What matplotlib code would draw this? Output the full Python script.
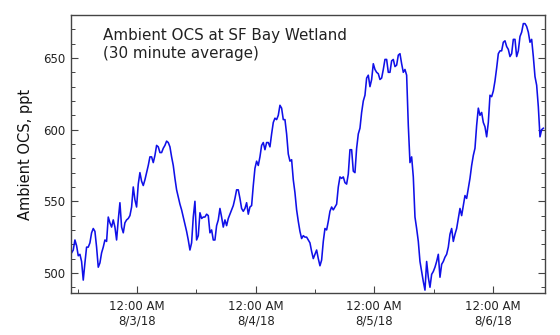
import pandas as pd
import numpy as np
import matplotlib
matplotlib.use("Agg")
import matplotlib.pyplot as plt
import matplotlib.dates as mdates
from matplotlib.ticker import MultipleLocator, FuncFormatter

# OCS mixing ratio (ppt), 30 minute running average, one value every 20.25 min
start_time = "2018-08-02 10:43"
step_seconds = 1215
ocs_ppt = [
    # 8/2 late morning -> 8/3 midnight
    514, 516, 523, 519, 512, 513, 508, 495, 507, 518, 518, 521, 528, 531,
    529, 518, 504, 507, 514, 518, 523, 522, 539, 535, 532, 537, 532, 523,
    537, 549, 532, 528, 535, 537, 538, 540, 546, 560, 551, 546, 562,
    # 8/3
    570, 564, 561, 565, 570, 575, 581, 581, 577, 582, 589, 588, 584, 584,
    587, 589, 592, 591, 588, 581, 575, 566, 558, 553, 548, 544, 539, 534,
    529, 523, 516, 521, 539, 550, 523, 526, 542, 538, 539, 539, 541,
    540, 528, 530, 523, 523, 533, 537, 545, 539, 532, 537, 533, 538, 541,
    544, 547, 552, 558, 558, 552, 545, 543, 545, 549, 541, 546, 547, 561,
    573, 578, 575, 581, 589, 591, 586, 591, 591, 588, 597, 605, 608, 607,
    # 8/4
    610, 617, 615, 607, 607, 597, 583, 578, 579, 565, 556, 544, 536, 529,
    524, 526, 525, 525, 523, 521, 515, 510, 513, 516, 510, 505, 509, 522,
    531, 530, 536, 543, 546, 544, 546, 548, 560, 567, 566, 567, 563,
    562, 569, 586, 586, 571, 570, 587, 597, 601, 612, 620, 624, 636, 638,
    630, 635, 646, 642, 640, 639, 635, 636, 642, 649, 649, 640, 640, 648,
    649, 644, 645, 652, 653, 646, 640, 642, 638, 603, 577, 581, 567, 539,
    # 8/5
    531, 522, 508, 501, 494, 488, 508, 497, 490, 499, 501, 504, 508, 513,
    497, 506, 508, 511, 513, 518, 527, 531, 522, 527, 531, 538, 545, 540,
    547, 554, 552, 559, 566, 575, 582, 587, 603, 615, 610, 612, 605,
    602, 595, 605, 624, 623, 627, 634, 643, 653, 655, 655, 661, 662, 658,
    656, 651, 653, 663, 663, 651, 655, 665, 668, 674, 674, 672, 668, 661,
    663, 651, 637, 631, 616, 595, 600, 601,
]

times = pd.date_range(start=start_time, periods=len(ocs_ppt), freq=f"{step_seconds}s")

title_lines = "Ambient OCS at SF Bay Wetland\n(30 minute average)"
y_label = "Ambient OCS, ppt"
x_range = ("2018-08-02 10:36", "2018-08-06 10:34")
y_range = (486, 680)

fig = plt.figure(figsize=(5.6, 3.35), dpi=100)
ax = fig.add_axes([0.1268, 0.1254, 0.8464, 0.8298])

ax.plot(times, ocs_ppt, color="#1010e8", lw=1.15)

ax.set_xlim(pd.Timestamp(x_range[0]), pd.Timestamp(x_range[1]))
ax.set_ylim(*y_range)

# y axis: labels every 50, small ticks every 10, ticks on both sides
ax.yaxis.set_major_locator(MultipleLocator(50))
ax.yaxis.set_minor_locator(MultipleLocator(10))

# x axis: midnight labels, noon minor ticks
ax.xaxis.set_major_locator(mdates.HourLocator(byhour=[0]))
ax.xaxis.set_minor_locator(mdates.HourLocator(byhour=[12]))


def day_label(v, pos):
    d = mdates.num2date(v)
    return f"{d:%I:%M %p}\n{d.month}/{d.day}/{d:%y}"


ax.xaxis.set_major_formatter(FuncFormatter(day_label))

ax.tick_params(axis="both", which="both", direction="in", colors="#444444",
               labelcolor="#222222", labelsize=8.5, top=False, right=True)
ax.tick_params(axis="both", which="major", length=5, width=0.8)
ax.tick_params(axis="both", which="minor", length=3, width=0.7)
ax.tick_params(axis="x", pad=5)
ax.tick_params(axis="y", pad=4)
for s in ax.spines.values():
    s.set_color("#444444")
    s.set_linewidth(1.0)

ax.set_ylabel(y_label, fontsize=10.5, color="#111111", labelpad=7)
ax.text(0.0675, 0.955, title_lines, transform=ax.transAxes, fontsize=10.9,
        color="#222222", va="top", ha="left", linespacing=1.3)

plt.savefig("out.png", dpi=100)
